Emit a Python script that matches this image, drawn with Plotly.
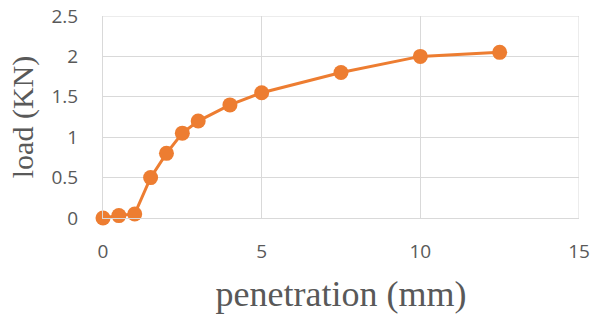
import plotly.graph_objects as go

penetration = [0, 0.5, 1, 1.5, 2, 2.5, 3, 4, 5, 7.5, 10, 12.5]
load = [0, 0.03, 0.05, 0.5, 0.8, 1.05, 1.2, 1.4, 1.55, 1.8, 2.0, 2.05]
x_ticks = [0, 5, 10, 15]
y_ticks = [0, 0.5, 1, 1.5, 2, 2.5]
y_tick_labels = ["0", "0.5", "1", "1.5", "2", "2.5"]

fig = go.Figure()
fig.add_trace(go.Scatter(
    x=penetration, y=load, mode="lines+markers",
    line=dict(color="#ED7D31", width=3),
    marker=dict(color="#ED7D31", size=15),
    cliponaxis=False,
))

grid = "#d9d9d9"
tickfont = dict(family="Open Sans, Liberation Sans", size=19, color="#595959")
xtitlefont = dict(family="Liberation Serif, Times New Roman", size=36, color="#595959")
ytitlefont = dict(family="Liberation Serif, Times New Roman", size=30, color="#595959")

fig.update_layout(
    width=593, height=317,
    margin=dict(l=103, r=14, t=16, b=99),
    paper_bgcolor="white", plot_bgcolor="white",
    showlegend=False,
    xaxis=dict(
        range=[0, 15], tickvals=x_ticks, showgrid=True, gridcolor=grid, gridwidth=1,
        zeroline=False, showline=True, linecolor=grid, linewidth=1, mirror=False,
        tickfont=tickfont, ticks="", ticklabelstandoff=16, automargin=False,
        title=dict(text="penetration (mm)", font=xtitlefont, standoff=18),
    ),
    yaxis=dict(
        range=[0, 2.5], tickvals=y_ticks, ticktext=y_tick_labels,
        showgrid=True, gridcolor=grid, gridwidth=1,
        zeroline=False, showline=True, linecolor=grid, linewidth=1,
        tickfont=tickfont, ticks="", ticklabelstandoff=20, automargin=False,
        title=dict(text="load (KN)", font=ytitlefont, standoff=8),
    ),
)
fig.add_shape(type="line", xref="x", yref="paper", x0=15, x1=15, y0=0, y1=1,
              line=dict(color=grid, width=1))
fig.add_shape(type="line", xref="paper", yref="y", x0=0, x1=1, y0=2.5, y1=2.5,
              line=dict(color=grid, width=1))

fig.write_html("out.html", config={"displayModeBar": False},
               post_script="document.body.style.margin='0';")
